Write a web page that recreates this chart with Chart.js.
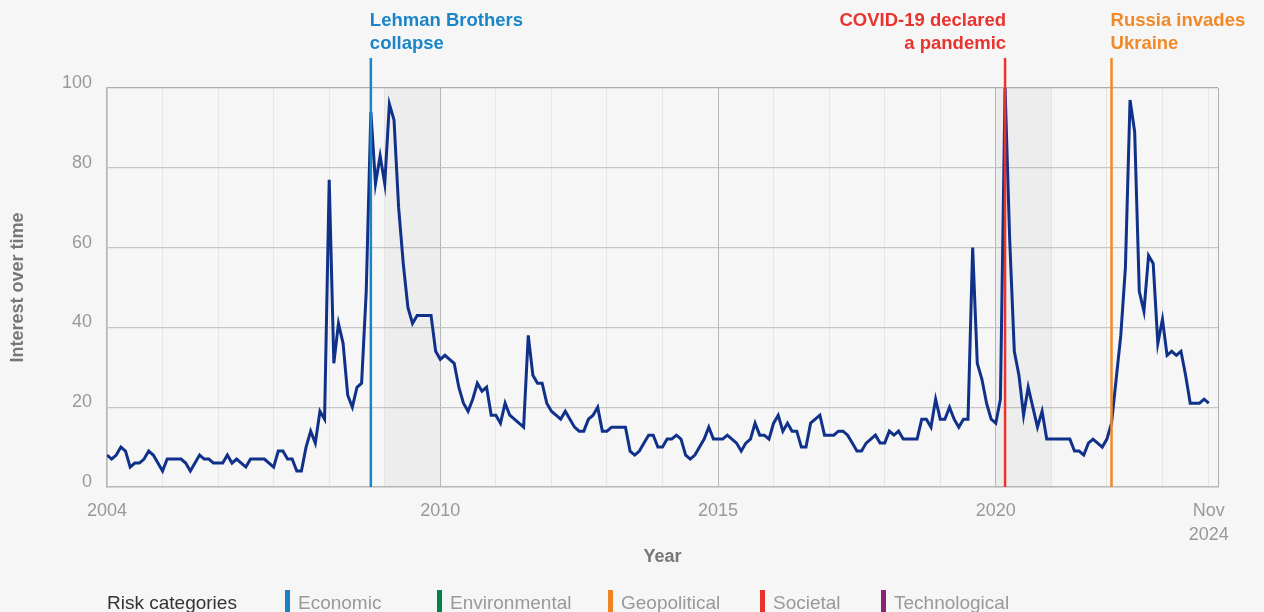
<!DOCTYPE html>
<html>
<head>
<meta charset="utf-8">
<script src="https://cdn.jsdelivr.net/npm/chart.js@4"></script>
<style>
  html, body { margin: 0; padding: 0; background: #f6f6f6; }
  #wrap { position: relative; width: 1264px; height: 612px; overflow: hidden; }
  #legend { position: absolute; left: 0; top: 590px; width: 1264px; height: 40px;
    font-family: "Liberation Sans", Arial, sans-serif; font-size: 19px; }
  #legend span { position: absolute; top: 2px; white-space: nowrap; }
  #legend .bar { position: absolute; top: 0; width: 5px; height: 30px; }
</style>
</head>
<body>
<div id="wrap">
  <canvas id="grafico"></canvas>
  <div id="legend"></div>
</div>
<script>
// ===== Dados =====
// índice de mês: 0 = jan/2004 ... 238 = último mês da série
const interesse = [
  8, 7, 8, 10, 9, 5, 6, 6, 7, 9, 8, 6,
  4, 7, 7, 7, 7, 6, 4, 6, 8, 7, 7, 6,
  6, 6, 8, 6, 7, 6, 5, 7, 7, 7, 7, 6,
  5, 9, 9, 7, 7, 4, 4, 10, 14, 11, 19, 17,
  77, 31, 41, 36, 23, 20, 25, 26, 49, 94, 76, 83,
  76, 96, 92, 70, 56, 45, 41, 43, 43, 43, 43, 34,
  32, 33, 32, 31, 25, 21, 19, 22, 26, 24, 25, 18,
  18, 16, 21, 18, 17, 16, 15, 38, 28, 26, 26, 21,
  19, 18, 17, 19, 17, 15, 14, 14, 17, 18, 20, 14,
  14, 15, 15, 15, 15, 9, 8, 9, 11, 13, 13, 10,
  10, 12, 12, 13, 12, 8, 7, 8, 10, 12, 15, 12,
  12, 12, 13, 12, 11, 9, 11, 12, 16, 13, 13, 12,
  16, 18, 14, 16, 14, 14, 10, 10, 16, 17, 18, 13,
  13, 13, 14, 14, 13, 11, 9, 9, 11, 12, 13, 11,
  11, 14, 13, 14, 12, 12, 12, 12, 17, 17, 15, 22,
  17, 17, 20, 17, 15, 17, 17, 60, 31, 27, 21, 17,
  16, 22, 100, 62, 34, 28, 18, 25, 20, 15, 19, 12,
  12, 12, 12, 12, 12, 9, 9, 8, 11, 12, 11, 10,
  12, 16, 27, 38, 55, 97, 89, 49, 44, 58, 56, 36,
  42, 33, 34, 33, 34, 28, 21, 21, 21, 22, 21
];

// rótulos do eixo X (índice de mês -> texto)
const rotulosX = { 0: "2004", 72: "2010", 132: "2015", 192: "2020", 238: ["Nov", "2024"] };
const ticksAno = [0, 12, 24, 36, 48, 60, 72, 84, 96, 108, 120, 132, 144, 156, 168, 180, 192, 204, 216, 228, 238, 240];
const ticksY = [0, 20, 40, 60, 80, 100];

// eventos
const eventoMes = [57, 194, 217];
const eventoTexto = [["Lehman Brothers", "collapse"], ["COVID-19 declared", "a pandemic"], ["Russia invades", "Ukraine"]];
const eventoCor = ["#1a86c8", "#e8332f", "#f08a28"];
const eventoAlinh = ["left", "right", "left"];

// faixas sombreadas (início, fim em meses)
const faixas = [[60, 72], [192, 204]];

// legenda
const categorias = ["Economic", "Environmental", "Geopolitical", "Societal", "Technological"];
const categoriaCor = ["#1a7fc4", "#00824a", "#ee8324", "#e8322e", "#8b2275"];

// ===== Plugin de anotações =====
const anotacoes = {
  id: "anotacoes",
  beforeDatasetsDraw(chart) {
    const { ctx, chartArea, scales } = chart;
    ctx.save();
    ctx.fillStyle = "rgba(0,0,0,0.035)";
    faixas.forEach(([a, b]) => {
      const x1 = scales.x.getPixelForValue(a);
      const x2 = scales.x.getPixelForValue(b);
      ctx.fillRect(x1, chartArea.top, x2 - x1, chartArea.bottom - chartArea.top);
    });
    ctx.restore();
  },
  afterDatasetsDraw(chart) {
    const { ctx, chartArea, scales } = chart;
    ctx.save();
    eventoMes.forEach((m, i) => {
      const x = scales.x.getPixelForValue(m);
      ctx.strokeStyle = eventoCor[i];
      ctx.lineWidth = 2.5;
      ctx.beginPath();
      ctx.moveTo(x, 58);
      ctx.lineTo(x, chartArea.bottom);
      ctx.stroke();

      ctx.fillStyle = eventoCor[i];
      ctx.font = "bold 18.5px 'Liberation Sans', Arial, sans-serif";
      ctx.textBaseline = "middle";
      ctx.textAlign = eventoAlinh[i];
      const tx = eventoAlinh[i] === "left" ? x - 1 : x + 1;
      eventoTexto[i].forEach((linha, j) => ctx.fillText(linha, tx, 21 + j * 22.5));
    });
    ctx.restore();
  }
};

// ===== Gráfico =====
Chart.defaults.font.family = "'Liberation Sans', Arial, sans-serif";

const ctx = document.getElementById("grafico").getContext("2d");
new Chart(ctx, {
  type: "line",
  data: {
    datasets: [{
      label: "Interest over time",
      data: interesse.map((v, i) => ({ x: i, y: v })),
      borderColor: "#10318a",
      borderWidth: 3,
      pointRadius: 0,
      tension: 0,
      fill: false
    }]
  },
  options: {
    responsive: true,
    maintainAspectRatio: false,
    animation: false,
    layout: { padding: { top: 88, right: 46, left: 0, bottom: 0 } },
    plugins: { legend: { display: false }, tooltip: { enabled: false } },
    scales: {
      x: {
        type: "linear",
        min: 0,
        max: 240,
        afterFit: (s) => { s.height = 125; },
        afterBuildTicks: (s) => { s.ticks = ticksAno.map((v) => ({ value: v })); },
        ticks: {
          autoSkip: false,
          maxRotation: 0,
          padding: 12,
          color: "#999",
          font: { size: 18, lineHeight: 1.35 },
          callback: (v) => (rotulosX[v] !== undefined ? rotulosX[v] : "")
        },
        grid: {
          drawTicks: false,
          lineWidth: 1,
          color: (c) => {
            const v = c.tick && c.tick.value;
            if (v === 72 || v === 132 || v === 192) return "#b8b8b8";
            if (v === 240) return "#adadad";
            return "#e6e6e6";
          }
        },
        border: { color: "#bcbcbc", width: 1.5 },
        title: {
          display: true,
          text: "Year",
          color: "#777",
          font: { size: 18, weight: "bold" },
          padding: { top: 0, bottom: 44 }
        }
      },
      y: {
        min: 0,
        max: 100,
        afterFit: (s) => { s.width = 107; },
        afterBuildTicks: (s) => { s.ticks = ticksY.map((v) => ({ value: v })); },
        ticks: {
          padding: 15,
          labelOffset: -5,
          color: "#999",
          font: { size: 18 }
        },
        grid: {
          drawTicks: false,
          lineWidth: 1.2,
          color: (c) => (c.tick && c.tick.value === 100 ? "#adadad" : "#c6c6c6")
        },
        border: { color: "#b4b4b4", width: 1.5 },
        title: {
          display: true,
          text: "Interest over time",
          color: "#777",
          font: { size: 18, weight: "bold" },
          padding: { top: 7, bottom: 0 }
        }
      }
    }
  },
  plugins: [anotacoes]
});

// ===== Legenda (HTML) =====
const legenda = document.getElementById("legend");
const posLegenda = [285, 437, 608, 760, 881];
legenda.innerHTML = `<span style="left:107px;color:#333">Risk categories</span>` +
  categorias.map((c, i) =>
    `<div class="bar" style="left:${posLegenda[i]}px;background:${categoriaCor[i]}"></div>` +
    `<span style="left:${posLegenda[i] + 13}px;color:#999">${c}</span>`
  ).join("");
</script>
</body>
</html>
